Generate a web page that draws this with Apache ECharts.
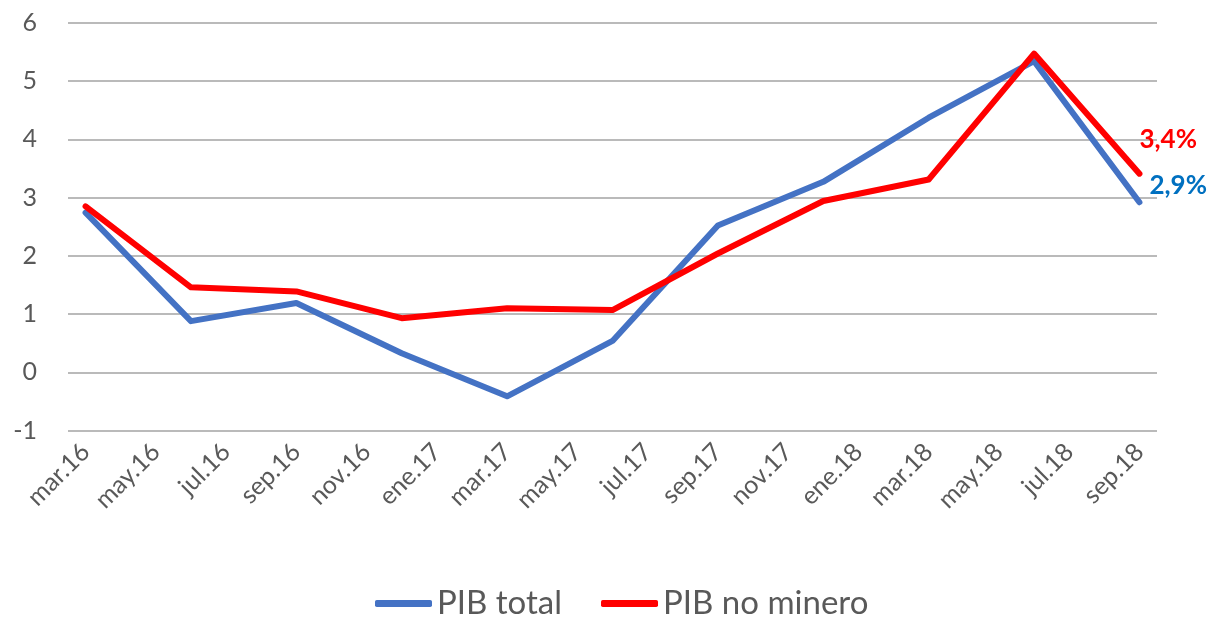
<!DOCTYPE html>
<html>
<head>
<meta charset="utf-8">
<script src="https://cdn.jsdelivr.net/npm/echarts@6/dist/echarts.min.js"></script>
<style>
html,body{margin:0;padding:0;background:#fff;}
#chart{width:1209px;height:617px;}
</style>
</head>
<body>
<div id="chart"></div>
<script>
const months = ['mar.16','abr.16','may.16','jun.16','jul.16','ago.16','sep.16','oct.16','nov.16','dic.16',
  'ene.17','feb.17','mar.17','abr.17','may.17','jun.17','jul.17','ago.17','sep.17','oct.17','nov.17','dic.17',
  'ene.18','feb.18','mar.18','abr.18','may.18','jun.18','jul.18','ago.18','sep.18'];
const quarters = ['mar.16','jun.16','sep.16','dic.16','mar.17','jun.17','sep.17','dic.17','mar.18','jun.18','sep.18'];
const pibTotal = [2.74, 0.88, 1.19, 0.33, -0.41, 0.54, 2.52, 3.27, 4.37, 5.34, 2.92];
const pibNoMinero = [2.85, 1.46, 1.39, 0.93, 1.10, 1.07, 2.04, 2.94, 3.31, 5.47, 3.41];
const seriesNames = ['PIB total', 'PIB no minero'];
const endLabels = ['2,9%', '3,4%'];

const FONT = 'Lato';
const chart = echarts.init(document.getElementById('chart'), null, {renderer: 'canvas'});
function pairs(vals){ return quarters.map((q, i) => [q, vals[i]]); }

chart.setOption({
  animation: false,
  backgroundColor: '#ffffff',
  textStyle: {fontFamily: FONT},
  grid: {left: 68, right: 52, top: 22.7, bottom: 186.3, containLabel: false},
  xAxis: {
    type: 'category',
    data: months,
    boundaryGap: true,
    axisLine: {show: false},
    axisTick: {show: false},
    splitLine: {show: false},
    axisLabel: {
      interval: 1, rotate: 45, margin: 17,
      color: '#595959', fontSize: 25, fontFamily: FONT
    }
  },
  yAxis: {
    type: 'value',
    min: -1, max: 6, interval: 1,
    axisLine: {show: false},
    axisTick: {show: false},
    axisLabel: {color: '#595959', fontSize: 25, fontFamily: FONT, margin: 31},
    splitLine: {show: true, lineStyle: {color: '#a3a3a3', width: 1.5}}
  },
  legend: {
    top: 582, left: 370,
    itemWidth: 57, itemHeight: 7, itemGap: 39,
    icon: 'roundRect',
    textStyle: {color: '#595959', fontSize: 33, fontFamily: FONT},
    data: seriesNames
  },
  series: [
    {
      name: seriesNames[0], type: 'line', data: pairs(pibTotal),
      symbol: 'none', connectNulls: true,
      lineStyle: {color: '#4472C4', width: 6, cap: 'round', join: 'round'},
      itemStyle: {color: '#4472C4'},
      endLabel: {show: true, formatter: endLabels[0], color: '#0070C0', fontWeight: 'bold',
        fontSize: 26, fontFamily: FONT, offset: [2, -17]}
    },
    {
      name: seriesNames[1], type: 'line', data: pairs(pibNoMinero),
      symbol: 'none', connectNulls: true,
      lineStyle: {color: '#FF0000', width: 6, cap: 'round', join: 'round'},
      itemStyle: {color: '#FF0000'},
      endLabel: {show: true, formatter: endLabels[1], color: '#FF0000', fontWeight: 'bold',
        fontSize: 26, fontFamily: FONT, offset: [-8, -34]}
    }
  ]
});
</script>
</body>
</html>
